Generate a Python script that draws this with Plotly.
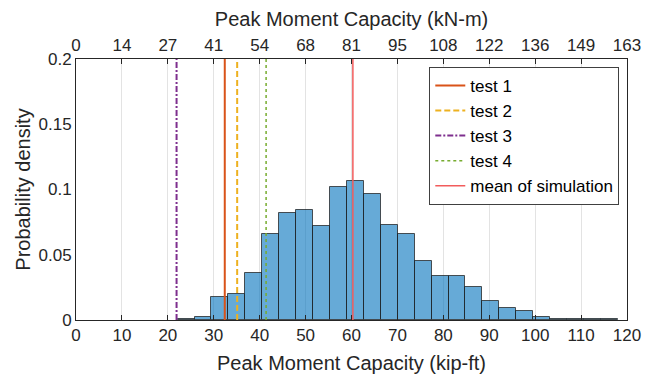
import plotly.graph_objects as go

# ---- data ----
KIPFT_TO_KNM = 1.35582
bin_start_kNm = [30, 35, 40, 45, 50, 55, 60, 65, 70, 75, 80, 85, 90, 95, 100,
                 105, 110, 115, 120, 125, 130, 135, 140, 145, 150, 155]
bin_width_kNm = 5
density = [0.0007, 0.0023, 0.018, 0.020, 0.036, 0.066, 0.082, 0.084, 0.072,
           0.102, 0.1065, 0.0966, 0.073, 0.066, 0.0455, 0.034, 0.034, 0.0253,
           0.0149, 0.0089, 0.0068, 0.002, 0.0005, 0.0005, 0.0005, 0.0005]

test_names = ["test 1", "test 2", "test 3", "test 4", "mean of simulation"]
test_values_kipft = [32.4, 35.1, 21.9, 41.4, 60.3]

bottom_ticks = [0, 10, 20, 30, 40, 50, 60, 70, 80, 90, 100, 110, 120]
top_tick_labels = ["0", "14", "27", "41", "54", "68", "81", "95", "108",
                   "122", "136", "149", "163"]
y_ticks = [0, 0.05, 0.1, 0.15, 0.2]
y_tick_labels = ["0", "0.05", "0.1", "0.15", "0.2"]

# ---- styles ----
line_styles = [
    dict(color="#D95319", width=2, dash="solid"),
    dict(color="#EDB120", width=2, dash="6px,3px"),
    dict(color="#7E2F8E", width=2, dash="6px,2px,2px,2px"),
    dict(color="#77AC30", width=1.5, dash="dot"),
    dict(color="#F25C5C", width=1.5, dash="solid"),
]

FONT = "Liberation Sans, Arial, sans-serif"
TXT = "#262626"

centers = [(s + bin_width_kNm / 2) / KIPFT_TO_KNM for s in bin_start_kNm]
width_kip = bin_width_kNm / KIPFT_TO_KNM

fig = go.Figure()
fig.add_trace(go.Bar(
    x=centers, y=density, width=[width_kip] * len(centers),
    marker=dict(color="rgba(0,114,189,0.6)",
                line=dict(color="rgba(30,30,30,0.75)", width=1)),
    showlegend=False, hoverinfo="x+y",
))
for name, v, st in zip(test_names, test_values_kipft, line_styles):
    fig.add_trace(go.Scatter(
        x=[v, v], y=[0, 0.2], mode="lines", name=name, line=st,
    ))
# invisible trace to attach the top axis
fig.add_trace(go.Scatter(x=[0, 120], y=[None, None], xaxis="x2",
                         mode="lines", showlegend=False, hoverinfo="skip"))

fig.update_layout(
    width=664, height=377,
    margin=dict(l=76, r=37, t=59, b=57),
    paper_bgcolor="white", plot_bgcolor="white",
    font=dict(family=FONT, size=17, color=TXT),
    bargap=0,
    xaxis=dict(
        range=[0, 120], tickvals=bottom_ticks,
        ticktext=[str(t) for t in bottom_ticks],
        showgrid=True, gridcolor="#E3E3E3", gridwidth=1,
        showline=True, linecolor=TXT, linewidth=1,
        ticks="inside", ticklen=5, tickcolor=TXT,
        zeroline=False, automargin=False,
        title=dict(text="Peak Moment Capacity (kip-ft)",
                   font=dict(size=20, family=FONT, color=TXT), standoff=11),
        tickfont=dict(size=17, family=FONT, color=TXT),
    ),
    xaxis2=dict(
        overlaying="x", side="top", anchor="y",
        range=[0, 120], tickvals=bottom_ticks, ticktext=top_tick_labels,
        showgrid=False, showline=True, linecolor=TXT, linewidth=1,
        ticks="inside", ticklen=5, tickcolor=TXT, zeroline=False,
        automargin=False,
        title=dict(text="Peak Moment Capacity (kN-m)",
                   font=dict(size=20, family=FONT, color=TXT), standoff=4),
        tickfont=dict(size=17, family=FONT, color=TXT),
    ),
    yaxis=dict(
        range=[0, 0.2], tickvals=y_ticks, ticktext=y_tick_labels,
        showgrid=False, zeroline=False,
        showline=True, mirror=True, linecolor=TXT, linewidth=1,
        ticks="", automargin=False,
        title=dict(text="Probability density",
                   font=dict(size=20, family=FONT, color=TXT), standoff=2),
        tickfont=dict(size=17, family=FONT, color=TXT),
    ),
    legend=dict(
        x=0.986, y=0.97, xanchor="right", yanchor="top",
        bgcolor="white", bordercolor="#404040", borderwidth=1,
        font=dict(size=17, family=FONT, color="black"),
        tracegroupgap=0, itemwidth=30,
    ),
)

fig.write_html("out.html",
               config={"displayModeBar": False},
               post_script="document.body.style.margin='0px';")
